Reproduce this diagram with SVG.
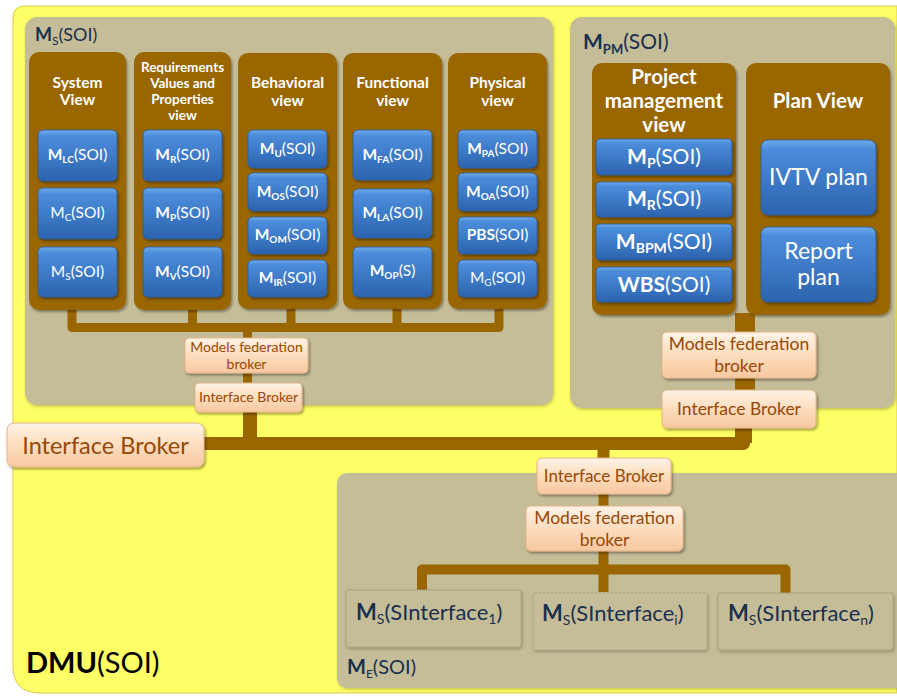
<svg xmlns="http://www.w3.org/2000/svg" width="897" height="697" viewBox="0 0 897 697">
<defs>
<linearGradient id="gBlue" x1="0" y1="0" x2="0" y2="1">
<stop offset="0" stop-color="#6FAAEA"/>
<stop offset="0.12" stop-color="#4C8DDB"/>
<stop offset="1" stop-color="#2C63AE"/>
</linearGradient>
<linearGradient id="gBrk" x1="0" y1="0" x2="0" y2="1">
<stop offset="0" stop-color="#FFF3E6"/>
<stop offset="0.5" stop-color="#FDDDBE"/>
<stop offset="1" stop-color="#F6C8A0"/>
</linearGradient>
<filter id="sh" x="-10%" y="-10%" width="125%" height="130%">
<feDropShadow dx="1.5" dy="2" stdDeviation="1.3" flood-color="#000" flood-opacity="0.35"/>
</filter>
<filter id="shs" x="-5%" y="-5%" width="115%" height="115%">
<feDropShadow dx="1" dy="1.5" stdDeviation="1.5" flood-color="#000" flood-opacity="0.25"/>
</filter>
</defs>
<style>
text{font-family:Lato,"Open Sans","Liberation Sans",sans-serif;}
.panel{fill:#C4BD97;filter:url(#shs);}
.col{fill:#996600;filter:url(#sh);}
.blue{fill:url(#gBlue);stroke:#2A5C9E;stroke-width:0.8;filter:url(#sh);}
.brk{fill:url(#gBrk);stroke:#E4B48A;stroke-width:1;filter:url(#sh);}
.sub{fill:#C4BD97;stroke:#A8A27E;stroke-width:1;filter:url(#shs);}
.hd{fill:#FFFFFF;font-weight:bold;text-anchor:middle;}
.bt{fill:#FFFFFF;text-anchor:middle;}
.bk{fill:#984807;text-anchor:middle;}
.pl{fill:#1B2F4F;}
.wire{fill:none;stroke:#996600;stroke-linejoin:round;}
</style>

<g id="dmu">
<path d="M25 6 H897 V693 H40 Q13 693 13 666 V18 Q13 6 25 6 Z" fill="#FFFF66" stroke="#D8C850" stroke-width="1"/>
<text x="26" y="673" font-size="29" fill="#000"><tspan font-weight="bold">DMU</tspan>(SOI)</text>
</g>

<g id="ms-panel">
<rect class="panel" x="25" y="17" width="528" height="388" rx="12"/>
<text class="pl" x="35" y="41" font-size="18"><tspan font-weight="bold">M</tspan><tspan font-size="12" dy="4">S</tspan><tspan dy="-4">(SOI)</tspan></text>
</g>

<g id="mpm-panel">
<rect class="panel" x="570" y="17" width="325" height="391" rx="12"/>
<text class="pl" x="583" y="49" font-size="21"><tspan font-weight="bold">M</tspan><tspan font-size="13" font-weight="bold" dy="5">PM</tspan><tspan dy="-5">(SOI)</tspan></text>
</g>

<g id="me-panel">
<rect class="panel" x="337" y="473" width="570" height="215" rx="10"/>
<text class="pl" x="347" y="674" font-size="20"><tspan font-weight="bold">M</tspan><tspan font-size="12" dy="4">E</tspan><tspan dy="-4">(SOI)</tspan></text>
</g>

<g id="connectors">
<path class="wire" stroke-width="9" d="M72 309 V327.5 H499 V309"/>
<path class="wire" stroke-width="9" d="M192.5 309 V327.5 M291 309 V327.5 M397 309 V327.5 M247.5 327 V339 M247.5 372 V384"/>
<path class="wire" stroke-width="13" d="M200 443.5 H743.5 V425"/>
<path class="wire" stroke-width="17" d="M743.5 443 V425"/>
<path class="wire" stroke-width="14" d="M250 410 V443"/>
<path class="wire" stroke-width="12" d="M603.5 443 V460"/>
<path class="wire" stroke-width="20" d="M745 313 V333 M745 376 V392"/>
<path class="wire" stroke-width="10" d="M603.5 493 V507 M603.5 550 V592"/>
<path class="wire" stroke-width="10" d="M422 592 V569.5 H785.5 V594"/>
</g>

<g id="col-system">
<rect class="col" x="29" y="52" width="97" height="258" rx="10"/>
<text class="hd" x="77.5" y="88" font-size="15.5">System</text>
<text class="hd" x="77.5" y="105" font-size="15.5">View</text>
</g>
<g id="col-req">
<rect class="col" x="134" y="52" width="97" height="258" rx="10"/>
<text class="hd" x="182.5" y="72" font-size="13.5">Requirements</text>
<text class="hd" x="182.5" y="88" font-size="13.5">Values and</text>
<text class="hd" x="182.5" y="104" font-size="13.5">Properties</text>
<text class="hd" x="182.5" y="120" font-size="13.5">view</text>
</g>
<g id="col-beh">
<rect class="col" x="238" y="53" width="99" height="256" rx="10"/>
<text class="hd" x="287.5" y="88" font-size="15.5">Behavioral</text>
<text class="hd" x="287.5" y="106" font-size="15.5">view</text>
</g>
<g id="col-func">
<rect class="col" x="343" y="53" width="99" height="256" rx="10"/>
<text class="hd" x="392.5" y="88" font-size="15.5">Functional</text>
<text class="hd" x="392.5" y="106" font-size="15.5">view</text>
</g>
<g id="col-phys">
<rect class="col" x="448" y="53" width="99" height="256" rx="10"/>
<text class="hd" x="497.5" y="88" font-size="15.5">Physical</text>
<text class="hd" x="497.5" y="106" font-size="15.5">view</text>
</g>

<g id="m-lc"><rect class="blue" x="38" y="130" width="79" height="51" rx="5"/>
<text class="bt" x="77.5" y="160" font-size="15.5"><tspan font-weight="bold">M</tspan><tspan font-weight="bold" font-size="10" dy="3">LC</tspan><tspan dy="-3">(SOI)</tspan></text></g>
<g id="m-c"><rect class="blue" x="38" y="188" width="79" height="51" rx="5"/>
<text class="bt" x="77.5" y="218" font-size="15.5">M<tspan font-size="10" dy="3">C</tspan><tspan dy="-3">(SOI)</tspan></text></g>
<g id="m-s"><rect class="blue" x="38" y="247" width="79" height="50" rx="5"/>
<text class="bt" x="77.5" y="277" font-size="15.5">M<tspan font-size="10" dy="3">S</tspan><tspan dy="-3">(SOI)</tspan></text></g>

<g id="m-r"><rect class="blue" x="143" y="130" width="79" height="51" rx="5"/>
<text class="bt" x="182.5" y="160" font-size="15.5"><tspan font-weight="bold">M</tspan><tspan font-weight="bold" font-size="10" dy="3">R</tspan><tspan dy="-3">(SOI)</tspan></text></g>
<g id="m-p"><rect class="blue" x="143" y="188" width="79" height="51" rx="5"/>
<text class="bt" x="182.5" y="218" font-size="15.5"><tspan font-weight="bold">M</tspan><tspan font-weight="bold" font-size="10" dy="3">P</tspan><tspan dy="-3">(SOI)</tspan></text></g>
<g id="m-v"><rect class="blue" x="143" y="247" width="79" height="50" rx="5"/>
<text class="bt" x="182.5" y="277" font-size="15.5"><tspan font-weight="bold">M</tspan><tspan font-weight="bold" font-size="10" dy="3">V</tspan><tspan dy="-3">(SOI)</tspan></text></g>

<g id="m-u"><rect class="blue" x="248" y="130" width="79" height="38" rx="5"/>
<text class="bt" x="287.5" y="154" font-size="15.5"><tspan font-weight="bold">M</tspan><tspan font-weight="bold" font-size="10" dy="3">U</tspan><tspan dy="-3">(SOI)</tspan></text></g>
<g id="m-os"><rect class="blue" x="248" y="173" width="79" height="38" rx="5"/>
<text class="bt" x="287.5" y="197" font-size="15.5"><tspan font-weight="bold">M</tspan><tspan font-weight="bold" font-size="10" dy="3">OS</tspan><tspan dy="-3">(SOI)</tspan></text></g>
<g id="m-om"><rect class="blue" x="248" y="217" width="79" height="37" rx="5"/>
<text class="bt" x="287.5" y="240" font-size="15.5"><tspan font-weight="bold">M</tspan><tspan font-weight="bold" font-size="10" dy="3">OM</tspan><tspan dy="-3">(SOI)</tspan></text></g>
<g id="m-ir"><rect class="blue" x="248" y="260" width="79" height="37" rx="5"/>
<text class="bt" x="287.5" y="283" font-size="15.5"><tspan font-weight="bold">M</tspan><tspan font-weight="bold" font-size="10" dy="3">IR</tspan><tspan dy="-3">(SOI)</tspan></text></g>

<g id="m-fa"><rect class="blue" x="353" y="130" width="79" height="50" rx="5"/>
<text class="bt" x="392.5" y="160" font-size="15.5"><tspan font-weight="bold">M</tspan><tspan font-weight="bold" font-size="10" dy="3">FA</tspan><tspan dy="-3">(SOI)</tspan></text></g>
<g id="m-la"><rect class="blue" x="353" y="189" width="79" height="49" rx="5"/>
<text class="bt" x="392.5" y="218" font-size="15.5"><tspan font-weight="bold">M</tspan><tspan font-weight="bold" font-size="10" dy="3">LA</tspan><tspan dy="-3">(SOI)</tspan></text></g>
<g id="m-op"><rect class="blue" x="353" y="247" width="79" height="50" rx="5"/>
<text class="bt" x="392.5" y="276" font-size="15.5"><tspan font-weight="bold">M</tspan><tspan font-weight="bold" font-size="10" dy="3">OP</tspan><tspan dy="-3">(S)</tspan></text></g>

<g id="m-pa"><rect class="blue" x="458" y="130" width="79" height="38" rx="5"/>
<text class="bt" x="497.5" y="154" font-size="15.5"><tspan font-weight="bold">M</tspan><tspan font-weight="bold" font-size="10" dy="3">PA</tspan><tspan dy="-3">(SOI)</tspan></text></g>
<g id="m-oa"><rect class="blue" x="458" y="173" width="79" height="38" rx="5"/>
<text class="bt" x="497.5" y="197" font-size="15.5"><tspan font-weight="bold">M</tspan><tspan font-weight="bold" font-size="10" dy="3">OA</tspan><tspan dy="-3">(SOI)</tspan></text></g>
<g id="pbs"><rect class="blue" x="458" y="217" width="79" height="37" rx="5"/>
<text class="bt" x="497.5" y="240" font-size="15.5"><tspan font-weight="bold">PBS</tspan>(SOI)</text></g>
<g id="m-g"><rect class="blue" x="458" y="260" width="79" height="37" rx="5"/>
<text class="bt" x="497.5" y="283" font-size="15.5">M<tspan font-size="10" dy="3">G</tspan><tspan dy="-3">(SOI)</tspan></text></g>

<g id="col-pm">
<rect class="col" x="592" y="63" width="144" height="252" rx="10"/>
<text class="hd" x="664" y="84" font-size="20.5">Project</text>
<text class="hd" x="664" y="108" font-size="20.5">management</text>
<text class="hd" x="664" y="132" font-size="20.5">view</text>
</g>
<g id="col-plan">
<rect class="col" x="746" y="63" width="144" height="252" rx="10"/>
<text class="hd" x="818" y="108" font-size="20.5">Plan View</text>
</g>

<g id="pm-mp"><rect class="blue" x="596" y="139" width="136" height="36" rx="4"/>
<text class="bt" x="664" y="164" font-size="21"><tspan font-weight="bold">M</tspan><tspan font-weight="bold" font-size="14" dy="4">P</tspan><tspan dy="-4">(SOI)</tspan></text></g>
<g id="pm-mr"><rect class="blue" x="596" y="182" width="136" height="35" rx="4"/>
<text class="bt" x="664" y="206" font-size="21"><tspan font-weight="bold">M</tspan><tspan font-weight="bold" font-size="14" dy="4">R</tspan><tspan dy="-4">(SOI)</tspan></text></g>
<g id="pm-mbpm"><rect class="blue" x="596" y="224" width="136" height="36" rx="4"/>
<text class="bt" x="664" y="249" font-size="21"><tspan font-weight="bold">M</tspan><tspan font-weight="bold" font-size="14" dy="4">BPM</tspan><tspan dy="-4">(SOI)</tspan></text></g>
<g id="pm-wbs"><rect class="blue" x="596" y="267" width="136" height="35" rx="4"/>
<text class="bt" x="664" y="292" font-size="21"><tspan font-weight="bold">WBS</tspan>(SOI)</text></g>

<g id="ivtv"><rect class="blue" x="761" y="140" width="115" height="75" rx="7"/>
<text class="bt" x="818.5" y="185" font-size="23">IVTV plan</text></g>
<g id="report"><rect class="blue" x="761" y="227" width="115" height="75" rx="7"/>
<text class="bt" x="818.5" y="259" font-size="23">Report</text>
<text class="bt" x="818.5" y="285" font-size="23">plan</text></g>

<g id="mfb-left"><rect class="brk" x="185" y="338" width="123" height="35" rx="4"/>
<text class="bk" x="246.5" y="352" font-size="14">Models federation</text>
<text class="bk" x="246.5" y="369" font-size="14">broker</text></g>
<g id="ib-left"><rect class="brk" x="195" y="383" width="107" height="29" rx="4"/>
<text class="bk" x="248.5" y="402" font-size="14">Interface Broker</text></g>

<g id="ib-big"><rect class="brk" x="7" y="423" width="197" height="44" rx="7"/>
<text class="bk" x="105.5" y="453.5" font-size="23.5">Interface Broker</text></g>

<g id="mfb-right"><rect class="brk" x="662" y="332" width="154" height="46" rx="5"/>
<text class="bk" x="739" y="350" font-size="17.5">Models federation</text>
<text class="bk" x="739" y="372" font-size="17.5">broker</text></g>
<g id="ib-right"><rect class="brk" x="662" y="390" width="154" height="38" rx="5"/>
<text class="bk" x="739" y="415" font-size="17.5">Interface Broker</text></g>

<g id="ib-bottom"><rect class="brk" x="537" y="458" width="134" height="36" rx="5"/>
<text class="bk" x="604" y="482" font-size="17">Interface Broker</text></g>
<g id="mfb-bottom"><rect class="brk" x="526" y="506" width="157" height="45" rx="5"/>
<text class="bk" x="604.5" y="524" font-size="17.5">Models federation</text>
<text class="bk" x="604.5" y="546" font-size="17.5">broker</text></g>

<g id="si-1"><rect class="sub" x="346" y="590" width="175" height="57" rx="2"/>
<text class="pl" x="356" y="620" font-size="22"><tspan font-weight="bold">M</tspan><tspan font-size="14" dy="4">S</tspan><tspan dy="-4">(SInterface</tspan><tspan font-size="14" dy="4">1</tspan><tspan dy="-4">)</tspan></text></g>
<g id="si-i"><rect class="sub" x="533" y="593" width="174" height="57" rx="2" stroke-dasharray="2 2"/>
<text class="pl" x="542" y="621" font-size="22"><tspan font-weight="bold">M</tspan><tspan font-size="14" dy="4">S</tspan><tspan dy="-4">(SInterface</tspan><tspan font-size="14" dy="4">i</tspan><tspan dy="-4">)</tspan></text></g>
<g id="si-n"><rect class="sub" x="718" y="593" width="175" height="57" rx="2"/>
<text class="pl" x="728" y="621" font-size="22"><tspan font-weight="bold">M</tspan><tspan font-size="14" dy="4">S</tspan><tspan dy="-4">(SInterface</tspan><tspan font-size="14" dy="4">n</tspan><tspan dy="-4">)</tspan></text></g>
</svg>
